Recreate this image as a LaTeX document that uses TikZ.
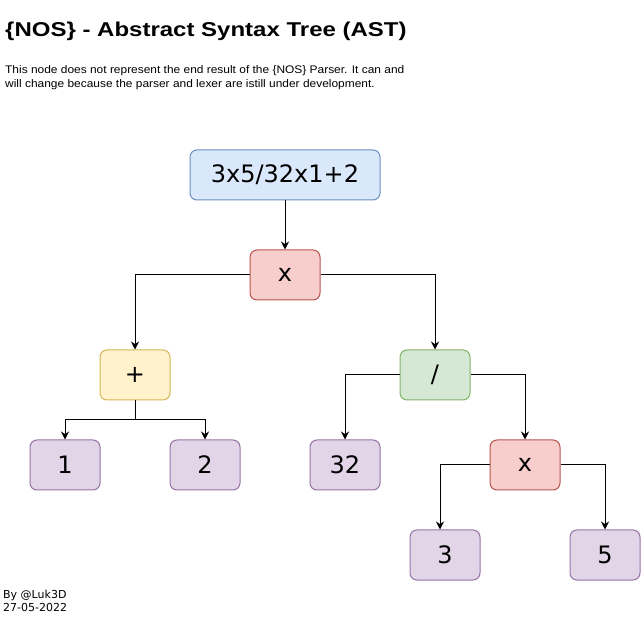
\documentclass[tikz,border=0pt]{standalone}
\usepackage{fontspec}
\setmainfont{Liberation Sans}
\newfontfamily\astfont{DejaVu Sans}
\newfontfamily\titlefont[FakeStretch=1.2]{Liberation Sans Bold}
\newfontfamily\descfont[FakeStretch=1.085]{Liberation Sans}
\usetikzlibrary{arrows.meta, positioning, calc}
\definecolor{rootfill}{HTML}{DAE8FC}
\definecolor{rootline}{HTML}{6C8EBF}
\definecolor{mulfill}{HTML}{F8CECC}
\definecolor{mulline}{HTML}{B85450}
\definecolor{addfill}{HTML}{FFF2CC}
\definecolor{addline}{HTML}{D6B656}
\definecolor{divfill}{HTML}{D5E8D4}
\definecolor{divline}{HTML}{82B366}
\definecolor{numfill}{HTML}{E1D5E7}
\definecolor{numline}{HTML}{9673A6}

\tikzset{
	astnode/.style={rounded corners=7pt, line width=1pt, minimum width=70pt,
		minimum height=50pt, inner sep=0pt, font=\astfont\fontsize{24}{28}\selectfont},
	rootnode/.style={astnode, fill=rootfill, draw=rootline, minimum width=190pt},
	mulnode/.style={astnode, fill=mulfill, draw=mulline},
	addnode/.style={astnode, fill=addfill, draw=addline},
	divnode/.style={astnode, fill=divfill, draw=divline},
	numnode/.style={astnode, fill=numfill, draw=numline},
	astedge/.style={line width=1pt, -{Stealth[length=8pt,width=8pt]}},
	plaintext/.style={inner sep=0pt, anchor=base west}
}

\begin{document}
\begin{tikzpicture}[x=1pt, y=-1pt]
	\useasboundingbox (0,0) rectangle (641,631);

	% heading and notes
	\node[plaintext, font=\titlefont\fontsize{20}{24}\selectfont] (title) at (5,37)
		{\{NOS\} - Abstract Syntax Tree (AST)};
	\node[plaintext, font=\descfont\fontsize{11}{14}\selectfont] (desc1) at (5,74)
		{This node does not represent the end result of the \{NOS\} Parser. It can and};
	\node[plaintext, font=\descfont\fontsize{11}{14}\selectfont] (desc2) at (5,88)
		{will change because the parser and lexer are istill under development.};
	\node[plaintext, font=\astfont\fontsize{11}{14}\selectfont] (author) at (3,598) {By @Luk3D};
	\node[plaintext, font=\astfont\fontsize{11}{14}\selectfont] (date) at (3,612) {27-05-2022};

	% tree
	\node[rootnode] (root) at (285,175) {3x5/32x1+2};
	\node[mulnode] (mul1) at (285,275) {x};
	\node[addnode] (add) at (135,375) {+};
	\node[divnode] (div) at (435,375) {/};
	\node[mulnode] (mul2) at (525,465) {x};
	\foreach \name/\x/\y/\val in {n1/65/465/1, n2/205/465/2, n32/345/465/32,
		n3/445/555/3, n5/605/555/5}{
		\node[numnode] (\name) at (\x,\y) {\val};
	}

	% connectors
	\coordinate (addsplit) at (135,420);
	\draw[astedge] (root) -- (mul1);
	\draw[astedge] (mul1.west) -| (add.north);
	\draw[astedge] (mul1.east) -| (div.north);
	\draw[astedge] (add.south) -- (addsplit) -| (n1.north);
	\draw[astedge] (addsplit) -| (n2.north);
	\draw[astedge] (div.west) -| (n32.north);
	\draw[astedge] (div.east) -| (mul2.north);
	\draw[astedge] (mul2.west) -| ([xshift=-5pt]n3.north);
	\draw[astedge] (mul2.east) -| (n5.north);
\end{tikzpicture}
\end{document}
